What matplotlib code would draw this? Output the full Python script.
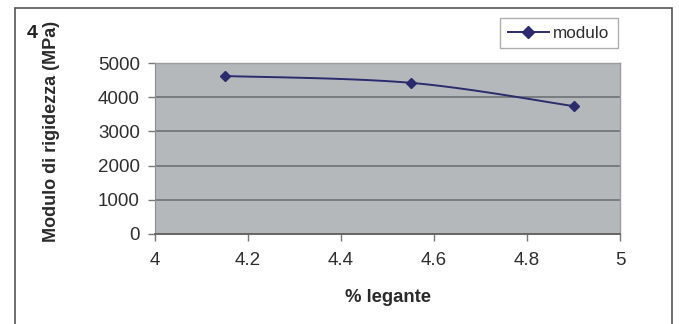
import numpy as np
import matplotlib
matplotlib.use("Agg")
import matplotlib.pyplot as plt
from matplotlib.patches import Rectangle

plt.rcParams['font.family'] = ['Liberation Sans', 'DejaVu Sans']

legante = [4.15, 4.55, 4.9]
modulo = [4620, 4420, 3740]
x_ticks = [4, 4.2, 4.4, 4.6, 4.8, 5]
y_ticks = [0, 1000, 2000, 3000, 4000, 5000]
x_tick_labels = ["4", "4.2", "4.4", "4.6", "4.8", "5"]


def smooth_path(xs, ys, tension=0.5, n=60):
    """Cubic Bezier smoothing through the points (spreadsheet-style smoothed line)."""
    xs = np.asarray(xs, float)
    ys = np.asarray(ys, float)
    px, py = [], []
    m = len(xs)
    for i in range(m - 1):
        x0, y0 = xs[max(i - 1, 0)], ys[max(i - 1, 0)]
        x1, y1 = xs[i], ys[i]
        x2, y2 = xs[i + 1], ys[i + 1]
        x3, y3 = xs[min(i + 2, m - 1)], ys[min(i + 2, m - 1)]
        c1x = x1 + (x2 - x0) * tension / 3
        c1y = y1 + (y2 - y0) * tension / 3
        c2x = x2 - (x3 - x1) * tension / 3
        c2y = y2 - (y3 - y1) * tension / 3
        t = np.linspace(0, 1, n)
        bx = (1 - t) ** 3 * x1 + 3 * (1 - t) ** 2 * t * c1x + 3 * (1 - t) * t ** 2 * c2x + t ** 3 * x2
        by = (1 - t) ** 3 * y1 + 3 * (1 - t) ** 2 * t * c1y + 3 * (1 - t) * t ** 2 * c2y + t ** 3 * y2
        px.extend(bx)
        py.extend(by)
    return np.array(px), np.array(py)


W, H = 679, 324
fig = plt.figure(figsize=(W / 100, H / 100), dpi=100)
fig.patch.set_facecolor('white')

# outer chart frame
fig.add_artist(Rectangle((15 / W, -0.1), (672 - 15) / W, (324 - 8) / H + 0.1,
                         transform=fig.transFigure, fill=False,
                         edgecolor='#555555', linewidth=1.2))

ax = fig.add_axes([155 / W, 1 - 234 / H, (620 - 155) / W, (234 - 63) / H])
ax.set_facecolor('#b5b8bb')

line_color = '#2b2b6e'
sx, sy = smooth_path(legante, modulo)
ax.plot(sx, sy, color=line_color, linewidth=1.4, zorder=3)
ax.plot(legante, modulo, linestyle='none', marker='D', markersize=5.5,
        color=line_color, zorder=4)

ax.set_xlim(4, 5)
ax.set_ylim(0, 5000)
ax.set_xticks(x_ticks)
ax.set_xticklabels(x_tick_labels)
ax.set_yticks(y_ticks)
ax.yaxis.grid(True, color='#6f7275', linewidth=1.2)
ax.set_axisbelow(True)

for side in ['top', 'right']:
    ax.spines[side].set_color('#9a9c9e')
    ax.spines[side].set_linewidth(1.0)
ax.spines['left'].set_color('#8a8c8e')
ax.spines['bottom'].set_color('#666666')
ax.spines['bottom'].set_linewidth(1.4)

ax.tick_params(axis='both', direction='out', length=5, width=1,
               color='#777777', labelsize=13.5, labelcolor='#2e2e2e')
ax.tick_params(axis='x', pad=8)
ax.tick_params(axis='y', pad=6)

fig.text(388 / W, 1 - 297 / H, '% legante', ha='center', va='center',
         fontsize=13.3, fontweight='bold', color='#2a2a2a')
fig.text(52 / W, 1 - 131 / H, 'Modulo di rigidezza (MPa)', rotation=90,
         ha='center', va='center', fontsize=13, fontweight='bold', color='#2a2a2a')

fig.text(32.5 / W, 1 - 34 / H, '4', ha='center', va='center', fontsize=14,
         fontweight='bold', color='#222222')

leg = ax.legend(['modulo'], loc='upper left',
                bbox_to_anchor=(500 / W, 1 - 48 / H, (618 - 500) / W, (48 - 18) / H),
                bbox_transform=fig.transFigure, mode='expand',
                frameon=True, fancybox=False, fontsize=12.3, handlelength=2.4,
                borderpad=0.45, handletextpad=0.25, borderaxespad=0)
leg.get_frame().set_edgecolor('#9a9a9a')
leg.get_frame().set_linewidth(1.0)
for t in leg.get_texts():
    t.set_color('#2e2e2e')
h = leg.legend_handles[0]
h.set_linestyle('-')
h.set_marker('D')

fig.savefig('out.png', dpi=100, facecolor='white')
